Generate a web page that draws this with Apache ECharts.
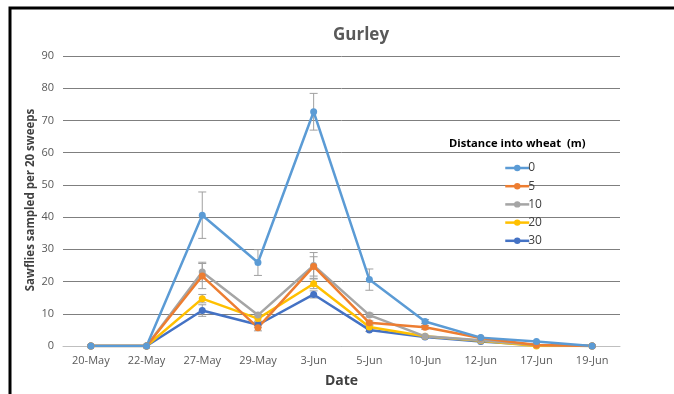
<!DOCTYPE html>
<html>
<head>
<meta charset="utf-8">
<script src="https://cdn.jsdelivr.net/npm/echarts@6/dist/echarts.min.js"></script>
<style>
  html, body { margin: 0; padding: 0; background: #fff; }
  #chart { width: 674px; height: 394px; }
</style>
</head>
<body>
<div id="chart"></div>
<script>
// Sampling dates
const dates = ['20-May', '22-May', '27-May', '29-May', '3-Jun', '5-Jun', '10-Jun', '12-Jun', '17-Jun', '19-Jun'];

// Distance into wheat (m)
const distances = ['0', '5', '10', '20', '30'];

// Mean sawflies per 20 sweeps, one array per distance
const d0  = [0, 0, 40.6, 25.9, 72.7, 20.6, 7.6, 2.6, 1.4, 0];
const d5  = [0, 0, 21.7, 5.7, 24.7, 7.2, 5.8, 2.5, 0.3, 0];
const d10 = [0, 0, 23.0, 9.6, 25.0, 9.6, 3.0, 1.8, 0.3, 0];
const d20 = [0, 0, 14.7, 8.5, 19.3, 5.9, 3.0, 1.6, 0.0, 0];
const d30 = [0, 0, 11.0, 6.6, 16.0, 5.0, 2.8, 1.4, 0.3, 0];

// Standard errors (half-length of each error bar)
const e0  = [0, 0, 7.2, 4.0, 5.7, 3.3, 0.6, 0, 0, 0];
const e5  = [0, 0, 3.9, 1.0, 3.0, 0.6, 0.6, 0, 0, 0];
const e10 = [0, 0, 3.0, 0.8, 4.0, 0.6, 0.3, 0, 0, 0];
const e20 = [0, 0, 1.3, 0.8, 1.5, 0.5, 0.3, 0, 0, 0];
const e30 = [0, 0, 1.8, 0.8, 1.1, 0.5, 0.3, 0, 0, 0];

// Y axis ticks
const yMin = 0, yMax = 90, yStep = 10;

const colors = ['#5B9BD5', '#ED7D31', '#A5A5A5', '#FFC000', '#4472C4'];
const means = [d0, d5, d10, d20, d30];
const errs = [e0, e5, e10, e20, e30];
const font = '"Open Sans", "Liberation Sans", sans-serif';

const chart = echarts.init(document.getElementById('chart'), null, { renderer: 'canvas' });

function errorSeries(idx) {
  const data = dates.map((d, i) => [i, means[idx][i] - errs[idx][i], means[idx][i] + errs[idx][i]])
    .filter(p => p[2] - p[1] > 0);
  return {
    type: 'custom',
    name: distances[idx] + ' error',
    data: data,
    z: 1,
    silent: true,
    renderItem: function (params, api) {
      const lo = api.coord([api.value(0), api.value(1)]);
      const hi = api.coord([api.value(0), api.value(2)]);
      const cap = 4;
      const style = { stroke: '#A0A0A0', lineWidth: 1 };
      return {
        type: 'group',
        children: [
          { type: 'line', shape: { x1: lo[0], y1: lo[1], x2: hi[0], y2: hi[1] }, style: style },
          { type: 'line', shape: { x1: lo[0] - cap, y1: lo[1], x2: lo[0] + cap, y2: lo[1] }, style: style },
          { type: 'line', shape: { x1: hi[0] - cap, y1: hi[1], x2: hi[0] + cap, y2: hi[1] }, style: style }
        ]
      };
    }
  };
}

const lineSeries = distances.map((name, idx) => ({
  type: 'line',
  name: name,
  data: means[idx],
  z: 3,
  symbol: 'circle',
  symbolSize: 7,
  lineStyle: { color: colors[idx], width: 2.5 },
  itemStyle: { color: colors[idx] }
}));

// Draw in reverse so the first distance sits on top
const series = [];
for (let i = distances.length - 1; i >= 0; i--) series.push(errorSeries(i));
for (let i = distances.length - 1; i >= 0; i--) series.push(lineSeries[i]);

chart.setOption({
  animation: false,
  color: colors,
  title: {
    text: 'Gurley',
    left: 356,
    top: 22,
    textAlign: 'center',
    textStyle: { fontFamily: font, fontSize: 17, fontWeight: 'bold', color: '#595959' }
  },
  grid: { left: 63, right: 54, top: 56, bottom: 48 },
  legend: {
    data: distances,
    orient: 'vertical',
    left: 499,
    top: 157,
    itemWidth: 24,
    itemHeight: 8,
    itemGap: 6.2,
    itemStyle: { borderWidth: 0 },
    lineStyle: { width: 2.5 },
    textStyle: { fontFamily: font, fontSize: 12, color: '#404040', padding: [0, 0, 0, -6] }
  },
  graphic: [
    {
      type: 'text',
      left: 449,
      top: 138,
      style: { text: 'Distance into wheat  (m)', fontFamily: font, fontSize: 11.2, fontWeight: 'bold', fill: '#000' }
    },
    {
      // Y axis title
      type: 'text',
      x: 31,
      y: 200,
      rotation: Math.PI / 2,
      style: {
        text: 'Sawflies sampled per 20 sweeps',
        fontFamily: font, fontSize: 11.5, fontWeight: 'bold', fill: '#404040',
        align: 'center', verticalAlign: 'middle'
      }
    },
    {
      type: 'rect',
      shape: { x: 10, y: 8, width: 720, height: 420 },
      style: { fill: 'none', stroke: '#000', lineWidth: 3 },
      z: 100
    }
  ],
  xAxis: {
    type: 'category',
    data: dates,
    boundaryGap: true,
    name: 'Date',
    nameLocation: 'middle',
    nameGap: 28,
    nameTextStyle: { fontFamily: font, fontSize: 14, fontWeight: 'bold', color: '#404040' },
    axisLine: { lineStyle: { color: '#BFBFBF', width: 1 } },
    axisTick: { show: false },
    axisLabel: { fontFamily: font, fontSize: 11, color: '#595959', margin: 9 }
  },
  yAxis: {
    type: 'value',
    min: yMin,
    max: yMax,
    interval: yStep,
    axisLine: { show: false },
    axisTick: { show: false },
    axisLabel: { fontFamily: font, fontSize: 11, color: '#595959', margin: 9 },
    splitLine: { lineStyle: { color: '#7F7F7F', width: 1 } }
  },
  series: series
});
</script>
</body>
</html>
